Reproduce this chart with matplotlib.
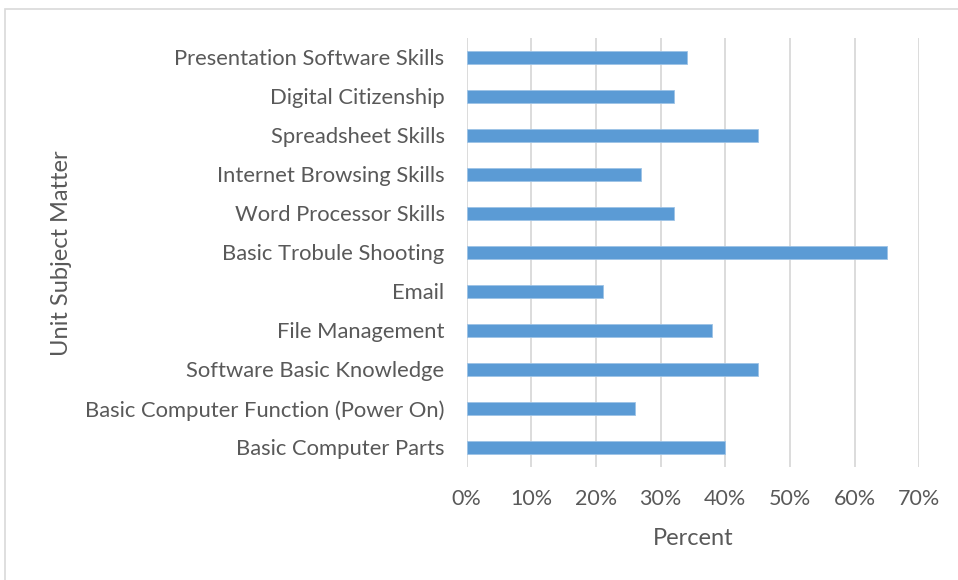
import matplotlib
matplotlib.use("Agg")
import matplotlib.pyplot as plt
from matplotlib.patches import Rectangle
from matplotlib.ticker import FuncFormatter, MultipleLocator

# Topics listed bottom-to-top as they appear on the y axis
topics = [
    "Basic Computer Parts",
    "Basic Computer Function (Power On)",
    "Software Basic Knowledge",
    "File Management",
    "Email",
    "Basic Trobule Shooting",
    "Word Processor Skills",
    "Internet Browsing Skills",
    "Spreadsheet Skills",
    "Digital Citizenship",
    "Presentation Software Skills",
]
percent = [0.40, 0.26, 0.45, 0.38, 0.21, 0.65, 0.32, 0.27, 0.45, 0.32, 0.34]

plt.rcParams["font.family"] = ["Lato", "DejaVu Sans"]
text_color = "#595959"

fig = plt.figure(figsize=(9.58, 5.8), dpi=100)
ax = fig.add_axes([0.4872, 0.1953, 0.4724, 0.7392])

ax.barh(range(len(topics)), percent, height=0.34, color="#5B9BD5",
        edgecolor="#9DC3E6", linewidth=0.6, zorder=3)

ax.set_xlim(0, 0.7)
ax.set_ylim(-0.5, len(topics) - 0.5)
ax.xaxis.set_major_locator(MultipleLocator(0.1))
ax.xaxis.set_major_formatter(FuncFormatter(lambda v, _: f"{round(v * 100)}%"))
ax.set_yticks(range(len(topics)))
ax.set_yticklabels(topics)

ax.grid(axis="x", color="#D9D9D9", linewidth=1.3, zorder=0)
ax.grid(axis="y", visible=False)
for s in ax.spines.values():
    s.set_visible(False)
ax.tick_params(axis="x", length=0, labelsize=15.5, colors=text_color, pad=16)
ax.tick_params(axis="y", length=0, labelsize=15.8, colors=text_color, pad=16)

ax.set_xlabel("Percent", fontsize=17, color=text_color, labelpad=14)
fig.text(62 / 958, 1 - 253 / 580, "Unit Subject Matter", rotation=90,
         ha="center", va="center", fontsize=17, color=text_color)

# Outer chart frame
fig.patches.append(Rectangle((5 / 958, -0.05), 1.1, 1 - 9 / 580 + 0.05,
                             transform=fig.transFigure, fill=False,
                             edgecolor="#D9D9D9", linewidth=1.2))

fig.savefig("out.png", dpi=100)
